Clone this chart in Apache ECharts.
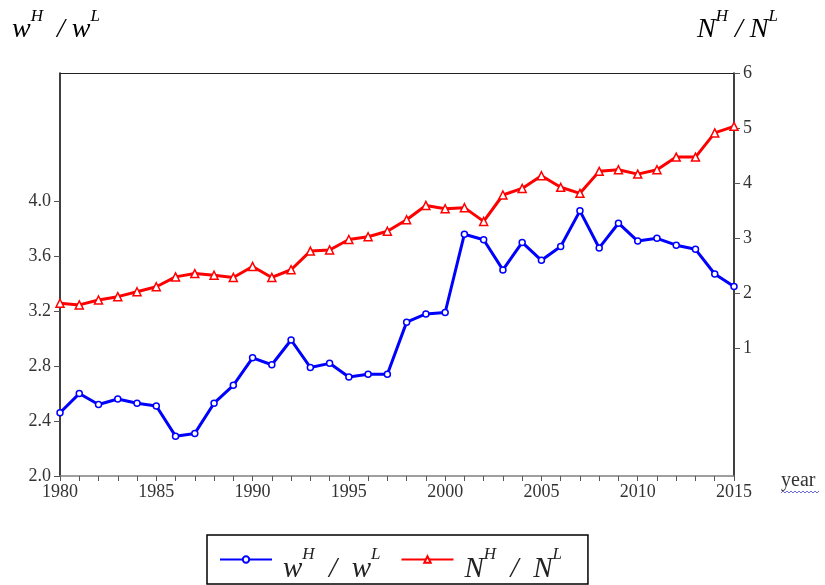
<!DOCTYPE html>
<html>
<head>
<meta charset="utf-8">
<script src="https://cdn.jsdelivr.net/npm/echarts@6/dist/echarts.min.js"></script>
<style>
  html, body { margin: 0; padding: 0; background: #fff; }
  #chart { width: 825px; height: 585px; }
</style>
</head>
<body>
<div id="chart"></div>
<script>
// Relative wage (left axis) and relative supply (right axis), 1980-2015
const years = [1980,1981,1982,1983,1984,1985,1986,1987,1988,1989,
               1990,1991,1992,1993,1994,1995,1996,1997,1998,1999,
               2000,2001,2002,2003,2004,2005,2006,2007,2008,2009,
               2010,2011,2012,2013,2014,2015];

const wageRatio = [2.46,2.60,2.52,2.56,2.53,2.51,2.29,2.31,2.53,2.66,
                   2.86,2.81,2.99,2.79,2.82,2.72,2.74,2.74,3.12,3.18,
                   3.19,3.76,3.72,3.50,3.70,3.57,3.67,3.93,3.66,3.84,
                   3.71,3.73,3.68,3.65,3.47,3.38];

const supplyRatio = [1.81,1.78,1.87,1.93,2.02,2.11,2.29,2.35,2.32,2.28,
                     2.48,2.28,2.42,2.76,2.78,2.97,3.02,3.12,3.33,3.59,
                     3.53,3.55,3.30,3.78,3.90,4.13,3.92,3.81,4.21,4.24,
                     4.16,4.24,4.47,4.47,4.91,5.03];

const leftTicks = [2.0, 2.4, 2.8, 3.2, 3.6, 4.0];
const rightTicks = [1, 2, 3, 4, 5, 6];

const serif = '"Liberation Serif", "DejaVu Serif", serif';
const labelColor = '#333';

const wageData = years.map((y, i) => [y, wageRatio[i]]);
const supplyData = years.map((y, i) => [y, supplyRatio[i]]);

const chart = echarts.init(document.getElementById('chart'), null, { renderer: 'canvas' });

// legend text sits a little below its line sample, with raised superscripts
const legendRich = {
  b: { fontFamily: serif, fontStyle: 'italic', fontSize: 29, color: '#222', padding: [20, 0, 0, 0] },
  s: { fontFamily: serif, fontStyle: 'italic', fontSize: 17, color: '#222', verticalAlign: 'bottom', padding: [0, 0, 21, 0] }
};
const titleRich = {
  b: { fontFamily: serif, fontStyle: 'italic', fontSize: 28, color: '#222', padding: [8, 0, 0, 0] },
  s: { fontFamily: serif, fontStyle: 'italic', fontSize: 17, color: '#222', verticalAlign: 'top', padding: [0, 0, 7, 0] }
};

chart.setOption({
  animation: false,
  backgroundColor: '#fff',
  grid: { left: 60, right: 91, top: 73, bottom: 109, containLabel: false },
  legend: {
    left: 207, top: 535,
    padding: [11, 26, 0, 12],
    borderColor: '#000', borderWidth: 1.5,
    itemWidth: 52, itemHeight: 8, itemGap: 20,
    data: ['w', 'N'],
    formatter: function (name) {
      return name === 'w'
        ? '{b|w}{s|H}{b|  /  w}{s|L}'
        : '{b|N}{s|H}{b|  /  N}{s|L}';
    },
    textStyle: { rich: legendRich, padding: [0, 0, 0, 6] }
  },
  xAxis: [
    {
      type: 'value', min: 1980, max: 2015, interval: 5,
      axisLine: { show: true, onZero: false, lineStyle: { color: '#7f7f7f', width: 1.5 } },
      axisTick: { show: true, length: 5, lineStyle: { color: '#555' } },
      minorTick: { show: true, splitNumber: 5, length: 5, lineStyle: { color: '#555' } },
      splitLine: { show: false },
      minorSplitLine: { show: false },
      axisLabel: { color: labelColor, fontFamily: serif, fontSize: 18, margin: 7, formatter: v => String(v) }
    },
    {
      type: 'value', position: 'top', min: 1980, max: 2015,
      axisLine: { show: true, onZero: false, lineStyle: { color: '#222', width: 1 } },
      axisTick: { show: false }, axisLabel: { show: false }, splitLine: { show: false }
    }
  ],
  yAxis: [
    {
      type: 'value', position: 'left', min: 2.0, max: 4.9333,
      axisLine: { show: true, onZero: false, lineStyle: { color: '#000', width: 1.5 } },
      axisTick: { show: true, length: 6, customValues: leftTicks, lineStyle: { color: '#555' } },
      axisLabel: {
        customValues: leftTicks, color: labelColor, fontFamily: serif, fontSize: 18, margin: 9,
        formatter: v => v.toFixed(1)
      },
      splitLine: { show: false }
    },
    {
      type: 'value', position: 'right', min: -1.3333, max: 6,
      axisLine: { show: true, onZero: false, lineStyle: { color: '#000', width: 1.5 } },
      axisTick: { show: true, length: 6, customValues: rightTicks, lineStyle: { color: '#555' } },
      axisLabel: {
        customValues: rightTicks, color: labelColor, fontFamily: serif, fontSize: 18, margin: 9,
        formatter: v => String(Math.round(v))
      },
      splitLine: { show: false }
    }
  ],
  series: [
    {
      name: 'w', type: 'line', xAxisIndex: 0, yAxisIndex: 0, data: wageData,
      symbol: 'circle', symbolSize: 6, showAllSymbol: true,
      lineStyle: { color: '#0000ff', width: 3 },
      itemStyle: { color: '#fff', borderColor: '#0000ff', borderWidth: 1.5 },
      z: 3
    },
    {
      name: 'N', type: 'line', xAxisIndex: 0, yAxisIndex: 1, data: supplyData,
      symbol: 'triangle', symbolSize: 8, showAllSymbol: true,
      lineStyle: { color: '#ff0000', width: 3 },
      itemStyle: { color: '#fff', borderColor: '#ff0000', borderWidth: 1.5 },
      z: 3
    }
  ],
  graphic: [
    {
      type: 'text', left: 12, top: 8,
      style: { text: '{b|w}{s|H}{b|  / w}{s|L}', rich: titleRich }
    },
    {
      type: 'text', left: 697, top: 8,
      style: { text: '{b|N}{s|H}{b| / N}{s|L}', rich: titleRich }
    },
    {
      type: 'text', left: 781, top: 471,
      style: { text: 'year', fontFamily: serif, fontSize: 20, fill: '#333' }
    },
    {
      type: 'polyline', silent: true,
      shape: {
        points: [[781,493],[783,491],[785,493],[787,491],[789,493],[791,491],[793,493],
                 [795,491],[797,493],[799,491],[801,493],[803,491],[805,493],[807,491],
                 [809,493],[811,491],[813,493],[815,491],[817,493],[819,491]]
      },
      style: { stroke: '#6b6bd8', lineWidth: 1, fill: null }
    }
  ]
});
</script>
</body>
</html>
